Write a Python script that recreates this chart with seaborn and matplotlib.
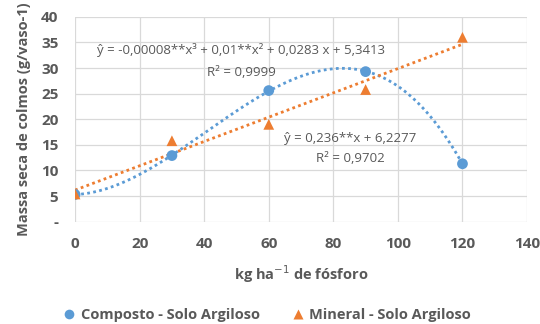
import numpy as np
import pandas as pd
import matplotlib
matplotlib.use("Agg")
import matplotlib.pyplot as plt
import seaborn as sns

doses = [0, 30, 60, 90, 120]
composto = [5.3, 12.9, 25.6, 29.3, 11.3]
mineral = [5.4, 15.8, 19.0, 25.8, 36.0]
series_names = ["Composto - Solo Argiloso", "Mineral - Solo Argiloso"]
yticks = [0, 5, 10, 15, 20, 25, 30, 35, 40]
yticklabels = ["-", "5", "10", "15", "20", "25", "30", "35", "40"]
xticks = [0, 20, 40, 60, 80, 100, 120, 140]
eq_comp = "ŷ = -0,00008**x³ + 0,01**x² + 0,0283 x + 5,3413"
r2_comp = "R² = 0,9999"
eq_min = "ŷ = 0,236**x + 6,2277"
r2_min = "R² = 0,9702"

blue = "#5B9BD5"
orange = "#ED7D31"
gray = "#595959"

sns.set_theme(style="whitegrid")
plt.rcParams['font.family'] = ['Open Sans', 'DejaVu Sans']

fig = plt.figure(figsize=(5.4, 3.24), dpi=100)
ax = fig.add_axes([0.139, 0.316, 0.837, 0.632])

df = pd.DataFrame({"x": doses * 2, "y": composto + mineral,
                   "s": [series_names[0]] * 5 + [series_names[1]] * 5})

# trendlines
xs = np.linspace(0, 120, 200)
c3 = np.polyfit(doses, composto, 3)
c1 = np.polyfit(doses, mineral, 1)
tr = pd.DataFrame({"x": np.concatenate([xs, xs]),
                   "y": np.concatenate([np.polyval(c3, xs), np.polyval(c1, xs)]),
                   "s": [series_names[0]] * len(xs) + [series_names[1]] * len(xs)})
for name, col in zip(series_names, [blue, orange]):
    sns.lineplot(data=tr[tr.s == name], x="x", y="y", ax=ax, color=col,
                 linestyle=(0, (1, 1.2)), linewidth=2, legend=False)

sns.scatterplot(data=df, x="x", y="y", hue="s", style="s",
                markers={series_names[0]: "o", series_names[1]: "^"},
                palette={series_names[0]: blue, series_names[1]: orange},
                s=60, edgecolor="none", ax=ax, zorder=5)

ax.set_xlim(0, 140)
ax.set_ylim(0, 40)
ax.set_xticks(xticks)
ax.set_yticks(yticks)
ax.set_yticklabels(yticklabels)
ax.grid(True, color="#D9D9D9", linewidth=0.9)
for sp in ax.spines.values():
    sp.set_visible(False)
ax.tick_params(axis="both", length=0, labelsize=11, colors=gray)
ax.tick_params(axis="x", pad=11)
ax.tick_params(axis="y", pad=12)
for lab in ax.get_xticklabels() + ax.get_yticklabels():
    lab.set_fontweight("bold")

ax.set_xlabel("kg ha$^{-1}$ de fósforo", fontsize=10.5, color=gray, fontweight="bold", labelpad=9)
ax.set_ylabel("Massa seca de colmos (g/vaso-1)", fontsize=10.5, color=gray, fontweight="bold", labelpad=7)

ax.text(51.4, 33.6, eq_comp, ha="center", va="center", fontsize=9.5, color=gray)
ax.text(51.4, 29.1, r2_comp, ha="center", va="center", fontsize=9.5, color=gray)
ax.text(85.2, 16.2, eq_min, ha="center", va="center", fontsize=9.5, color=gray)
ax.text(85.2, 12.4, r2_min, ha="center", va="center", fontsize=9.5, color=gray)

h, l = ax.get_legend_handles_labels()
ax.legend(h, l, loc="center", bbox_to_anchor=(0.425, -0.455), ncol=2, frameon=False,
          fontsize=10.5, labelcolor=gray, handlelength=0.8, handletextpad=0.4,
          columnspacing=2.2, markerscale=0.9)
leg = ax.get_legend()
for t in leg.get_texts():
    t.set_fontweight("bold")

fig.savefig("out.png", dpi=100)
